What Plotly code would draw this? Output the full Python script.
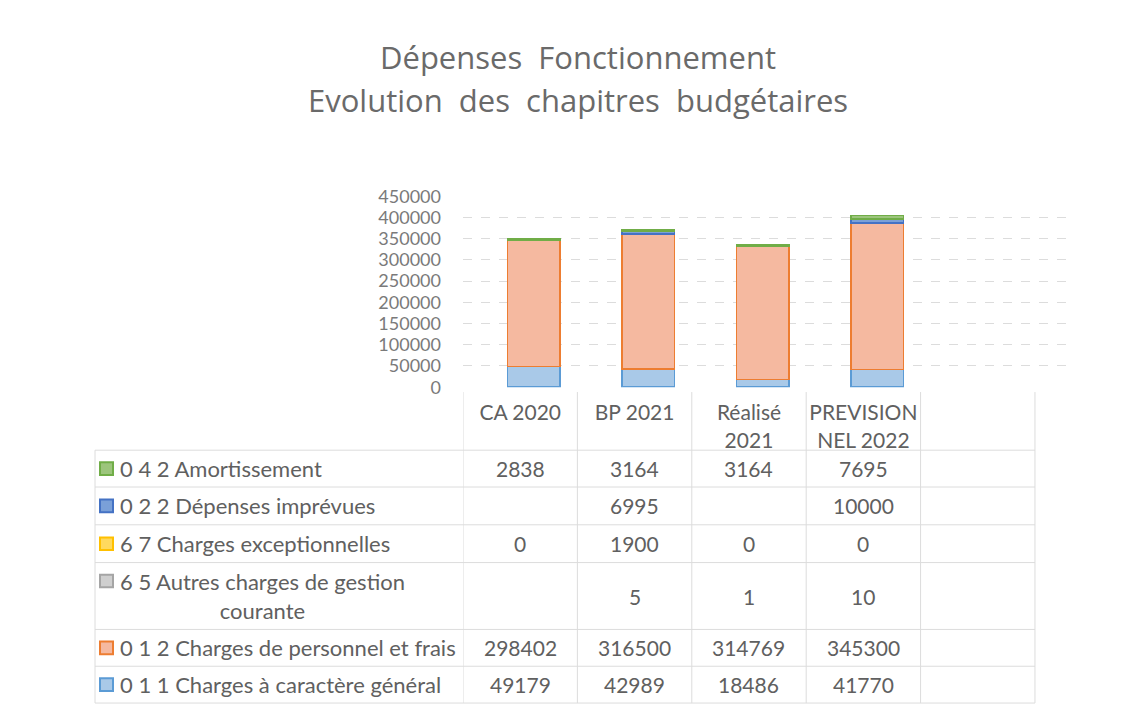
import plotly.graph_objects as go

# ---------------- data ----------------
categories = ["CA 2020", "BP 2021", "Réalisé 2021", "PREVISION NEL 2022"]
category_ticktext = ["CA 2020", "BP 2021", "Réalisé<br>2021", "PREVISION<br>NEL 2022"]

charges_generales_011 = [49179, 42989, 18486, 41770]
charges_personnel_012 = [298402, 316500, 314769, 345300]
autres_charges_65 = [None, 5, 1, 10]
charges_exceptionnelles_67 = [0, 1900, 0, 0]
depenses_imprevues_022 = [None, 6995, None, 10000]
amortissement_042 = [2838, 3164, 3164, 7695]

series_names = [
    "0 1 1 Charges à caractère général",
    "0 1 2 Charges de personnel et frais",
    "6 5 Autres charges de gestion<br>courante",
    "6 7 Charges exceptionnelles",
    "0 2 2 Dépenses imprévues",
    "0 4 2 Amortissement",
]
series_values = [
    charges_generales_011,
    charges_personnel_012,
    autres_charges_65,
    charges_exceptionnelles_67,
    depenses_imprevues_022,
    amortissement_042,
]
fill_colors = ["#a9c9e8", "#f5b9a0", "#cfcfcf", "#ffd95e", "#7aa0d8", "#9cc57c"]
line_colors = ["#5b9bd5", "#ed7d31", "#a5a5a5", "#ffc000", "#4472c4", "#70ad47"]

# ---------------- layout helpers ----------------
# page body has an 8px margin; figure is sized to fit inside the window
OFF = 8
W, H = 1133 - 2 * OFF, 723 - 2 * OFF
def px(x):
    return (x - OFF) / W
def py(y):
    return 1 - (y - OFF) / H

FONT = "Lato, Open Sans, sans-serif"
TXT = "#606060"
GRID = "#dcdcdc"

x_pos = list(range(len(categories)))

fig = go.Figure()
for name, vals, fc, lc in zip(series_names, series_values, fill_colors, line_colors):
    fig.add_trace(go.Bar(
        x=x_pos, y=vals, name=name,
        width=0.46, offset=-0.11,
        marker=dict(color=fc, line=dict(color=lc, width=1.5)),
        hoverinfo="skip", showlegend=False,
    ))

fig.update_layout(
    width=W, height=H,
    margin=dict(l=0, r=0, t=0, b=0),
    paper_bgcolor="white", plot_bgcolor="white",
    barmode="stack",
    font=dict(family=FONT, color=TXT),
    xaxis=dict(
        domain=[px(463), px(1075)],
        range=[-0.5, 4.85],
        tickmode="array", tickvals=x_pos, ticktext=category_ticktext,
        tickfont=dict(size=21, color=TXT),
        showgrid=False, zeroline=False, showline=False,
        ticks="", fixedrange=True, ticklabelstandoff=11,
    ),
    yaxis=dict(
        domain=[py(387), py(190)],
        range=[0, 450000],
        dtick=50000, tickformat="d",
        tickfont=dict(size=18, color="#7a7a7a"),
        showgrid=True, gridcolor=GRID, griddash="dash", gridwidth=1,
        zeroline=False, showline=False,
        ticklabelstandoff=21, fixedrange=True,
    ),
)

# ---------------- title ----------------
fig.add_annotation(text="Dépenses  Fonctionnement", xref="paper", yref="paper",
                   x=px(578), y=py(46), xanchor="center", yanchor="middle", showarrow=False,
                   font=dict(family="Open Sans", size=31, color="#6a6a6a"))
fig.add_annotation(text="Evolution  des  chapitres  budgétaires", xref="paper", yref="paper",
                   x=px(578), y=py(91), xanchor="center", yanchor="middle", showarrow=False,
                   font=dict(family="Open Sans", size=31, color="#6a6a6a"))

# ---------------- data table ----------------
row_edges = [452, 490, 529, 568, 637, 675, 713]
table_left = 95
order = list(range(len(series_names)))[::-1]  # rows listed top -> bottom

for ye in row_edges:
    fig.add_shape(type="line", xref="paper", yref="paper",
                  x0=px(table_left), x1=px(1035), y0=py(ye), y1=py(ye),
                  line=dict(color=GRID, width=1))
fig.add_shape(type="line", xref="paper", yref="paper",
              x0=px(table_left), x1=px(table_left), y0=py(row_edges[0]), y1=py(row_edges[-1]),
              line=dict(color=GRID, width=1))
for xb in [-0.5 + k for k in range(len(categories) + 2)]:
    fig.add_shape(type="line", xref="x", yref="paper",
                  x0=xb, x1=xb, y0=py(392), y1=py(row_edges[-1]),
                  line=dict(color=GRID, width=1))

for r, si in enumerate(order):
    top, bot = row_edges[r], row_edges[r + 1]
    yc = (top + bot) / 2
    name = series_names[si]
    two_lines = "<br>" in name
    key_y = top + 19 if two_lines else yc
    fig.add_shape(type="rect", xref="paper", yref="paper",
                  x0=px(100), x1=px(113), y0=py(key_y - 6.5), y1=py(key_y + 6.5),
                  fillcolor=fill_colors[si], line=dict(color=line_colors[si], width=2))
    fig.add_annotation(text=name, xref="paper", yref="paper",
                       x=px(118), y=py(yc), xanchor="left", yanchor="middle",
                       align="center", showarrow=False,
                       font=dict(size=22, color=TXT))
    for j, v in enumerate(series_values[si]):
        if v is None:
            continue
        fig.add_annotation(text=str(v), xref="x", yref="paper",
                           x=x_pos[j], y=py(yc), xanchor="center", yanchor="middle",
                           showarrow=False, font=dict(size=21, color=TXT))

fig.write_html("out.html")
